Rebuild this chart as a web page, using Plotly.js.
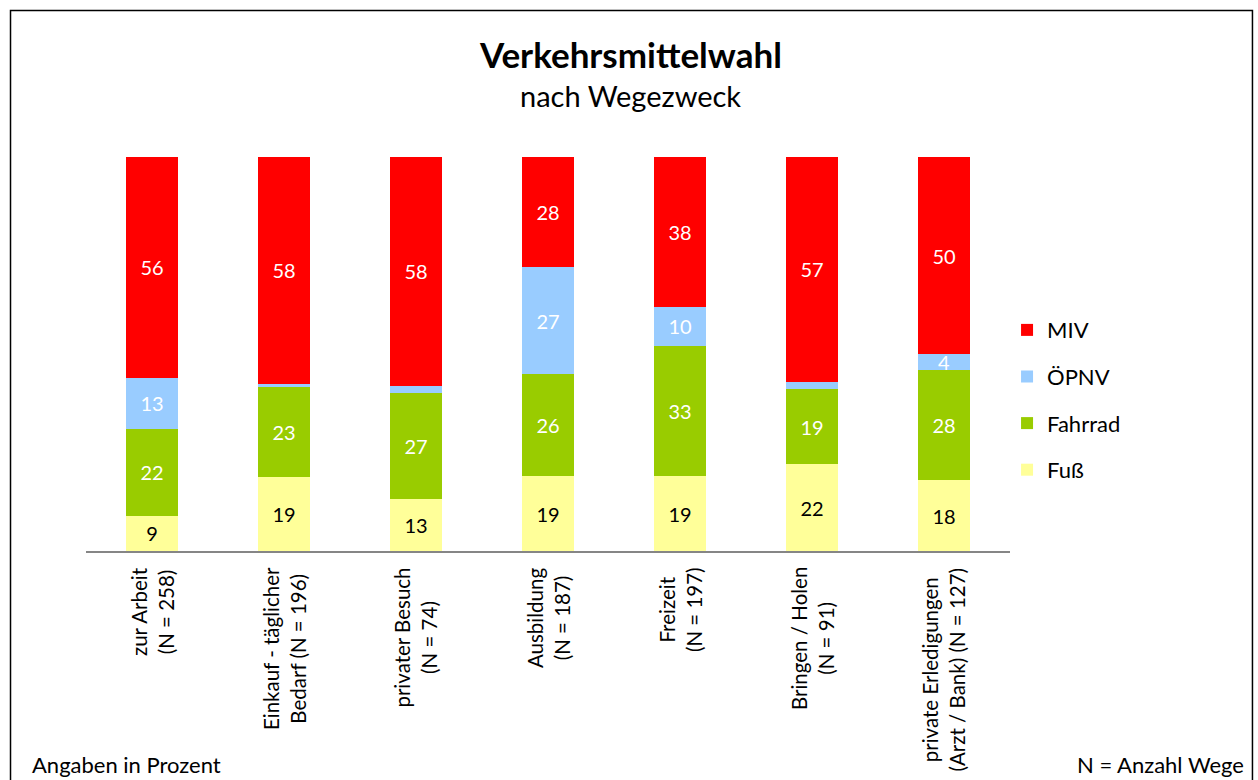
<!DOCTYPE html>
<html>
<head>
<meta charset="utf-8">
<script src="https://cdn.plot.ly/plotly-3.0.1.min.js"></script>
<style>
  html, body { margin: 0; padding: 0; background: #fff; }
  #plotArea { width: 1258px; height: 780px; }
</style>
</head>
<body>
<div id="plotArea"></div>
<script>
// Wegezwecke (Kategorien) und Beschriftungen unter den Balken
var categories = ["zur Arbeit", "Einkauf", "privater Besuch", "Ausbildung", "Freizeit", "Bringen / Holen", "private Erledigungen"];
var tickLabels = ["zur Arbeit<br>(N = 258)", "Einkauf - täglicher<br>Bedarf (N = 196)", "privater Besuch<br>(N = 74)",
                  "Ausbildung<br>(N = 187)", "Freizeit<br>(N = 197)", "Bringen / Holen<br>(N = 91)",
                  "private Erledigungen<br>(Arzt / Bank) (N = 127)"];

// Anteile in Prozent
var fuss    = [9, 18.7, 13.2, 19, 19, 22, 18];
var fahrrad = [22, 22.8, 26.9, 26, 33, 19, 28];
var oepnv   = [13, 0.9, 1.8, 27, 10, 2, 4];
var miv     = [56, 57.6, 58.1, 28, 38, 57, 50];

var FONT = "Lato, 'Open Sans', sans-serif";

// kleine Segmente bleiben ohne Beschriftung
function labels(vals) {
    return vals.map(function (v) { return v >= 3 ? String(Math.round(v)) : ""; });
}

function series(name, vals, color, textColor, rank) {
    return {
        x: categories,
        y: vals,
        name: name,
        type: "bar",
        legendgroup: name,
        legendrank: rank,
        marker: {color: color, line: {width: 0}},
        text: labels(vals),
        textposition: "inside",
        insidetextanchor: "middle",
        textangle: 0,
        textfont: {family: FONT, size: 20, color: textColor},
        hoverinfo: "skip"
    };
}

var traces = [
    series("Fuß", fuss, "#FFFF99", "#000000", 4),
    series("Fahrrad", fahrrad, "#99CC00", "#FFFFFF", 3),
    series("ÖPNV", oepnv, "#99CCFF", "#FFFFFF", 2),
    series("MIV", miv, "#FF0000", "#FFFFFF", 1)
];

var annotations = tickLabels.map(function (t, i) {
    return {
        x: categories[i], xref: "x",
        y: -0.037, yref: "paper",
        text: t, showarrow: false,
        textangle: -90, xanchor: "center", yanchor: "top", align: "center",
        font: {family: FONT, size: 20.5, color: "#000"}
    };
});

annotations.push(
    {text: "nach Wegezweck", xref: "paper", yref: "paper", x: 0.5898, y: 1.155,
     xanchor: "center", yanchor: "middle", showarrow: false,
     font: {family: FONT, size: 29, color: "#000"}},
    {text: "Angaben in Prozent", xref: "paper", yref: "paper", x: -0.0606, y: -0.541,
     xanchor: "left", yanchor: "middle", showarrow: false,
     font: {family: FONT, size: 22, color: "#000"}},
    {text: "N = Anzahl Wege", xref: "paper", yref: "paper", x: 1.2554, y: -0.541,
     xanchor: "right", yanchor: "middle", showarrow: false,
     font: {family: FONT, size: 22, color: "#000"}}
);

var layout = {
    width: 1258,
    height: 780,
    margin: {l: 86, r: 248, t: 157, b: 229},
    paper_bgcolor: "#fff",
    plot_bgcolor: "#fff",
    font: {family: FONT, color: "#000"},
    title: {text: "<b>Verkehrsmittelwahl</b>", x: 0.5015, xanchor: "center",
            y: 0.928, yanchor: "middle", font: {family: FONT, size: 35, color: "#000"}},
    barmode: "stack",
    bargap: 0.6,
    uniformtext: {mode: "show", minsize: 20},
    showlegend: true,
    legend: {x: 0.9968, xanchor: "left", y: 0.383, yanchor: "middle",
             traceorder: "grouped", tracegroupgap: 15,
             font: {family: FONT, size: 22, color: "#000"}},
    xaxis: {type: "category", showticklabels: false, ticks: "",
            showline: true, linecolor: "#868686", linewidth: 1.5,
            showgrid: false, zeroline: false, fixedrange: true},
    yaxis: {range: [0, 100], visible: false, showgrid: false, zeroline: false, fixedrange: true},
    annotations: annotations,
    shapes: [{type: "rect", xref: "paper", yref: "paper",
              x0: -0.0817, x1: 1.2624, y0: -0.62, y1: 1.3718,
              line: {color: "#000", width: 1.5}, fillcolor: "rgba(0,0,0,0)"}],
    hovermode: false
};

Plotly.newPlot("plotArea", traces, layout, {displayModeBar: false, staticPlot: true});
</script>
</body>
</html>
